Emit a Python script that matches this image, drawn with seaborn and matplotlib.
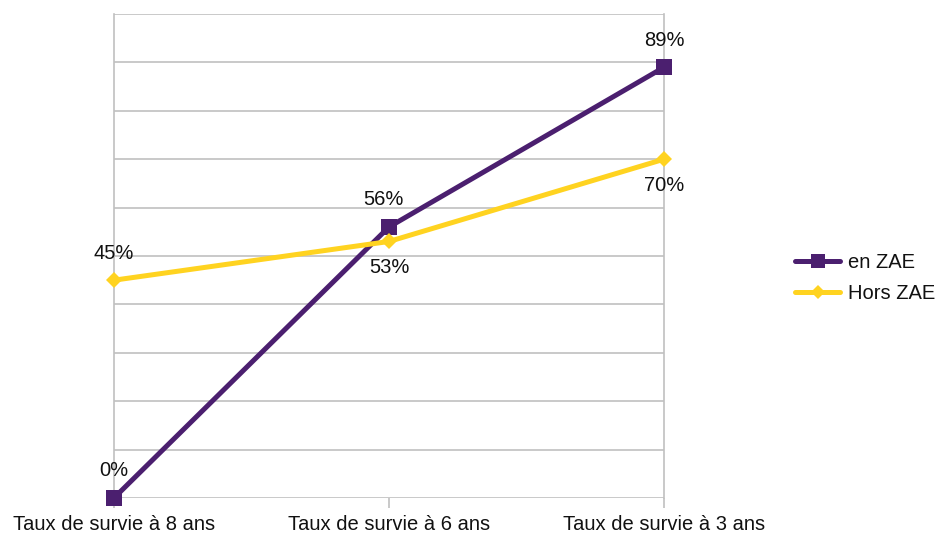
import pandas as pd
import matplotlib.pyplot as plt
import seaborn as sns

# données
categories = ["Taux de survie à 8 ans", "Taux de survie à 6 ans", "Taux de survie à 3 ans"]
en_zae = [0.00, 0.56, 0.89]
hors_zae = [0.45, 0.53, 0.70]
series = ["en ZAE", "Hors ZAE"]

df = pd.DataFrame({
    "cat": categories * 2,
    "pos": list(range(len(categories))) * 2,
    "val": en_zae + hors_zae,
    "serie": [series[0]] * 3 + [series[1]] * 3,
})

sns.set_theme(style="white")
plt.rcParams["font.family"] = ["Liberation Sans", "DejaVu Sans"]

grid_col = "#c0c0c0"
txt_col = "#111111"
fs = 14.5
palette = {"en ZAE": "#4b1f6f", "Hors ZAE": "#ffd320"}

fig = plt.figure(figsize=(9.38, 5.33), dpi=100)
ax = fig.add_axes([0.1215, 0.0657, 0.5864, 0.908])

sns.lineplot(data=df, x="pos", y="val", hue="serie", style="serie",
             palette=palette, markers={"en ZAE": "s", "Hors ZAE": "D"},
             dashes=False, linewidth=3.6, markersize=11, markeredgewidth=0,
             ax=ax, legend=False)
for line in ax.lines:
    line.set_clip_on(False)
    line.set_zorder(3)
    # losange un peu plus petit pour Hors ZAE
    if line.get_marker() == "D":
        line.set_markersize(8)

ax.set_xlim(0, len(categories) - 1)
ax.set_ylim(0, 1)
ax.set_yticks([i / 10 for i in range(11)])
ax.set_yticklabels([])
ax.yaxis.grid(True, color=grid_col, linewidth=1.2)
ax.set_axisbelow(True)
ax.tick_params(axis="y", length=0)
ax.set_xticks(range(len(categories)))
ax.set_xticklabels(categories, fontsize=fs, color=txt_col)
ax.tick_params(axis="x", length=7, width=1.2, color=grid_col, pad=5, bottom=True)
ax.set_xlabel("")
ax.set_ylabel("")
for side in ["left", "right"]:
    ax.spines[side].set_color(grid_col)
    ax.spines[side].set_linewidth(1.2)
ax.spines["top"].set_visible(False)
ax.spines["bottom"].set_visible(False)

# étiquettes des valeurs
for i, v in enumerate(en_zae):
    dx = -4 if i == 1 else 0
    ax.annotate(f"{round(v * 100)}%", (i, v), xytext=(dx, 19.5), textcoords="offset points",
                ha="center", va="center", fontsize=fs, color=txt_col)
for i, v in enumerate(hors_zae):
    dy = 19.5 if i == 0 else -19
    ax.annotate(f"{round(v * 100)}%", (i, v), xytext=(0, dy), textcoords="offset points",
                ha="center", va="center", fontsize=fs, color=txt_col)

handles = [
    plt.Line2D([], [], color=palette["en ZAE"], linewidth=3.6, marker="s", markersize=9.5, markeredgewidth=0),
    plt.Line2D([], [], color=palette["Hors ZAE"], linewidth=3.6, marker="D", markersize=7, markeredgewidth=0),
]
fig.legend(handles, series, loc="center left", bbox_to_anchor=(0.848, 0.478),
           frameon=False, fontsize=fs, handlelength=2.2, handletextpad=0.4,
           labelspacing=0.62, borderaxespad=0, borderpad=0, labelcolor=txt_col)

fig.savefig("out.png", dpi=100)
